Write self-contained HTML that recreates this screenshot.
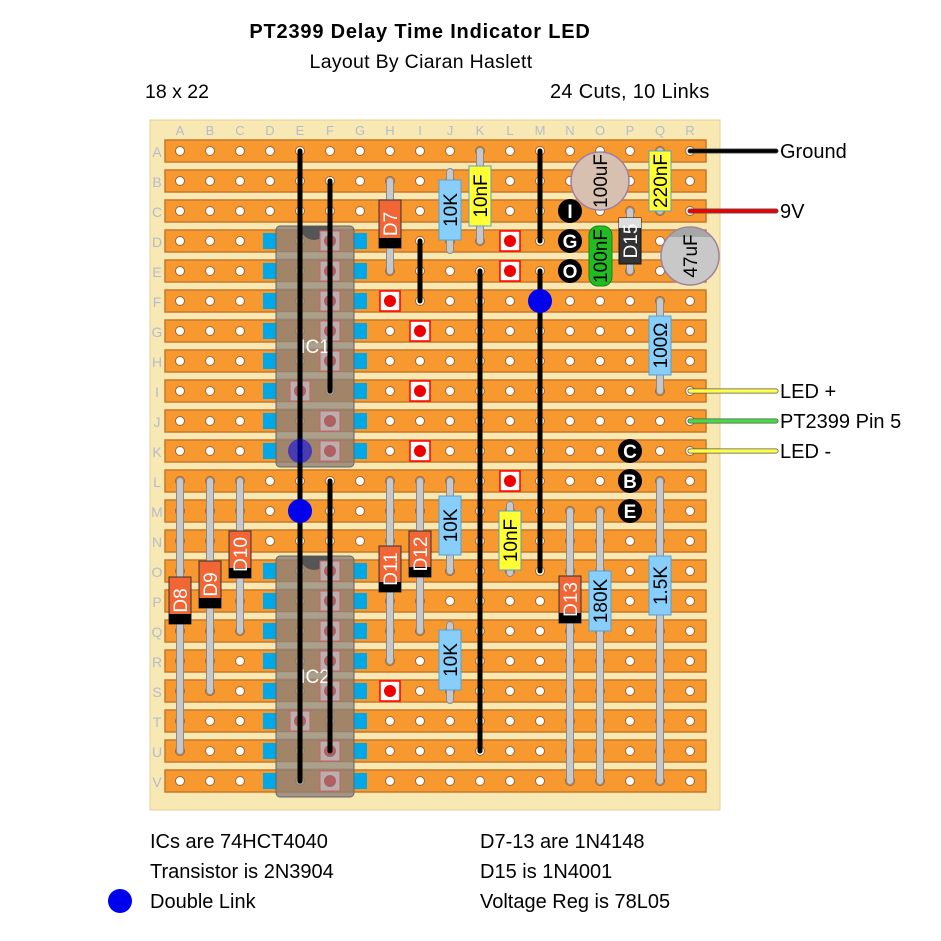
<!DOCTYPE html>
<html><head><meta charset="utf-8"><style>
body{margin:0;background:#fff;width:941px;height:941px;overflow:hidden}
svg{display:block;font-family:"Liberation Sans",sans-serif}
</style></head><body>
<svg id="s" width="941" height="941" viewBox="0 0 941 941" xmlns="http://www.w3.org/2000/svg">
<text x="420" y="38" font-size="20" font-weight="bold" text-anchor="middle" letter-spacing="0.8">PT2399 Delay Time Indicator LED</text>
<text x="421" y="68" font-size="19.5" text-anchor="middle" letter-spacing="0.3">Layout By Ciaran Haslett</text>
<text x="145" y="98" font-size="19.5">18 x 22</text>
<text x="550" y="98" font-size="20" letter-spacing="0.3">24 Cuts, 10 Links</text>
<rect x="150" y="120" width="570" height="690" fill="#f8e8b4" stroke="#e8d090"/>
<g id="strips"></g>
<g id="top"></g>
<text x="780" y="158" font-size="20">Ground</text>
<text x="780" y="218" font-size="20">9V</text>
<text x="780" y="398" font-size="20">LED +</text>
<text x="780" y="428" font-size="20">PT2399 Pin 5</text>
<text x="780" y="458" font-size="20">LED -</text>
<text x="150" y="848" font-size="20">ICs are 74HCT4040</text>
<text x="150" y="878" font-size="20">Transistor is 2N3904</text>
<text x="150" y="908" font-size="20">Double Link</text>
<circle cx="120" cy="901" r="12" fill="#0000ee"/>
<text x="480" y="848" font-size="20">D7-13  are 1N4148</text>
<text x="480" y="878" font-size="20">D15 is 1N4001</text>
<text x="480" y="908" font-size="20">Voltage Reg is 78L05</text>
</svg>
<script>
const X=c=>180+30*c, Y=r=>151+30*r;
const L="ABCDEFGHIJKLMNOPQRSTUV";
let s="";
for(let r=0;r<22;r++){
 s+=`<rect x="165" y="${Y(r)-11}" width="541" height="22" fill="#f7992f" stroke="#c9782a" stroke-width="1.5"/>`;
 s+=`<text x="157" y="${Y(r)+6}" font-size="14" fill="#b4bccc" text-anchor="middle">${L[r]}</text>`;
 for(let c=0;c<18;c++) s+=`<circle cx="${X(c)}" cy="${Y(r)}" r="4.5" fill="#fff" stroke="#a8642a" stroke-width="1"/>`;
}
for(let c=0;c<18;c++) s+=`<text x="${X(c)}" y="135" font-size="13" fill="#b4bccc" text-anchor="middle">${"ABCDEFGHIJKLMNOPQR"[c]}</text>`;
document.getElementById("strips").innerHTML=s;
let t="";
function lead(x,y1,y2){t+=`<line x1="${x}" y1="${y1}" x2="${x}" y2="${y2}" stroke="#8a8a8a" stroke-width="8" stroke-linecap="round"/><line x1="${x}" y1="${y1}" x2="${x}" y2="${y2}" stroke="#c8c8c8" stroke-width="6" stroke-linecap="round"/>`;}
function rtext(x,y,txt,col,fs){t+=`<text transform="translate(${x+7},${y}) rotate(-90)" font-size="${fs||19}" fill="${col}" text-anchor="middle">${txt}</text>`;}
function res(x,y1,y2,b1,b2,txt,fill,col){lead(x,y1,y2);t+=`<rect x="${x-11}" y="${b1}" width="22" height="${b2-b1}" fill="${fill||'#87cefa'}" stroke="#5aa0d0"/>`;rtext(x,(b1+b2)/2,txt,col||"#000");}
function diode(x,y1,y2,b1,b2,txt){lead(x,y1,y2);t+=`<rect x="${x-11}" y="${b1}" width="22" height="${b2-b1}" fill="#f26535" stroke="#333"/><rect x="${x-11}" y="${b2-10}" width="22" height="10" fill="#000"/>`;rtext(x,(b1+b2)/2,txt,"#fff");}
function cut(x,y){t+=`<rect x="${x-10}" y="${y-10}" width="20" height="20" fill="#fff" stroke="#f00" stroke-width="1.5"/><circle cx="${x}" cy="${y}" r="6" fill="#e00"/>`;}
function link(x,y1,y2){t+=`<line x1="${x}" y1="${y1}" x2="${x}" y2="${y2}" stroke="#000" stroke-width="5" stroke-linecap="round"/>`;}
function wire(y,col){t+=`<line x1="690" y1="${y}" x2="776" y2="${y}" stroke="#555" stroke-width="5" stroke-linecap="round"/><line x1="690" y1="${y}" x2="776" y2="${y}" stroke="${col}" stroke-width="3.5" stroke-linecap="round"/>`;}
function badge(x,y,ch){t+=`<circle cx="${x}" cy="${y}" r="12" fill="#000"/><text x="${x}" y="${y+7}" font-size="19" font-weight="bold" fill="#fff" text-anchor="middle">${ch}</text>`;}
function ic(r0,name){
 const y0=Y(r0)-15;
 for(let i=0;i<8;i++){const y=Y(r0+i);t+=`<rect x="263" y="${y-8}" width="14" height="16" fill="#00a8e8"/><rect x="353" y="${y-8}" width="14" height="16" fill="#00a8e8"/>`;}
 t+=`<rect x="276" y="${y0}" width="78" height="241" rx="4" fill="#8c7f78" fill-opacity="0.8" stroke="#666"/>`;
 for(let i=1;i<8;i++)t+=`<rect x="277" y="${Y(r0+i)-19}" width="76" height="6" fill="#b0a890" opacity="0.6"/>`;
 t+=`<path d="M300 ${y0} a14 14 0 0 0 28 0z" fill="#555"/>`;
 [0,1,2,3,4,6,7].forEach(i=>{const y=Y(r0+i);t+=`<rect x="320" y="${y-10}" width="20" height="20" fill="#b8b0b0" stroke="#d06060"/><circle cx="330" cy="${y}" r="6" fill="#b06060"/>`;});
 const y=Y(r0+5);t+=`<rect x="290" y="${y-10}" width="20" height="20" fill="#b8b0b0" stroke="#d06060"/><circle cx="300" cy="${y}" r="6" fill="#b06060"/>`;
 t+=`<text x="315" y="${Y(r0+3)+22}" font-size="19" fill="#fff" text-anchor="middle">${name}</text>`;
}
ic(3,"IC1");ic(14,"IC2");
[[510,241],[510,271],[390,301],[420,331],[420,391],[420,451],[510,481],[390,691]].forEach(p=>cut(...p));
diode(390,181,271,200,248,"D7");
res(450,172,250,180,240,"10K");
res(480,151,241,166,226,"10nF","#ffff33");
t+=`<circle cx="600" cy="181" r="29" fill="#d8c0b0" stroke="#a080a0" stroke-width="1.5"/>`;
rtext(600,181,"100uF","#000");
res(660,151,211,151,211,"220nF","#ffff33");
badge(570,211,"I");badge(570,241,"G");badge(570,271,"O");
t+=`<rect x="589" y="226" width="23" height="60" rx="9" fill="#22bb22" stroke="#118811"/>`;rtext(600,256,"100nF","#000");
lead(630,211,271);t+=`<rect x="619" y="218" width="22" height="46" fill="#333" stroke="#111"/><rect x="619" y="218" width="22" height="10" fill="#ddd"/>`;rtext(630,241,"D15","#fff");
t+=`<circle cx="690" cy="256" r="29" fill="#c8c8c8" stroke="#a080a0" stroke-width="1.5"/><path d="M668 237 A29 29 0 0 1 712 237 Z" fill="#999" opacity="0.7"/>`;rtext(690,256,"47uF","#000");
res(660,301,391,316,375,"100Ω");
badge(630,451,"C");badge(630,481,"B");badge(630,511,"E");
diode(180,481,751,577,624,"D8");
diode(210,481,691,561,608,"D9");
diode(240,481,631,531,578,"D10");
diode(390,481,661,546,592,"D11");
diode(420,481,631,531,577,"D12");
res(450,481,571,496,555,"10K");
res(450,625,700,630,690,"10K");
res(510,505,573,511,570,"10nF","#ffff33");
diode(570,511,781,576,623,"D13");
res(600,511,781,571,631,"180K");
res(660,481,781,556,615,"1.5K");
link(300,151,781);link(330,181,391);link(330,481,751);link(420,241,301);link(480,271,751);link(540,151,241);link(540,271,571);
[[300,451],[300,511],[540,301]].forEach(p=>t+=`<circle cx="${p[0]}" cy="${p[1]}" r="12" fill="#0000ee" fill-opacity="${p[1]==451?0.55:1}"/>`);
wire(151,"#000");wire(211,"#e00");wire(391,"#ffff44");wire(421,"#44dd44");wire(451,"#ffff44");
document.getElementById("top").innerHTML=t;
</script>
</body></html>
